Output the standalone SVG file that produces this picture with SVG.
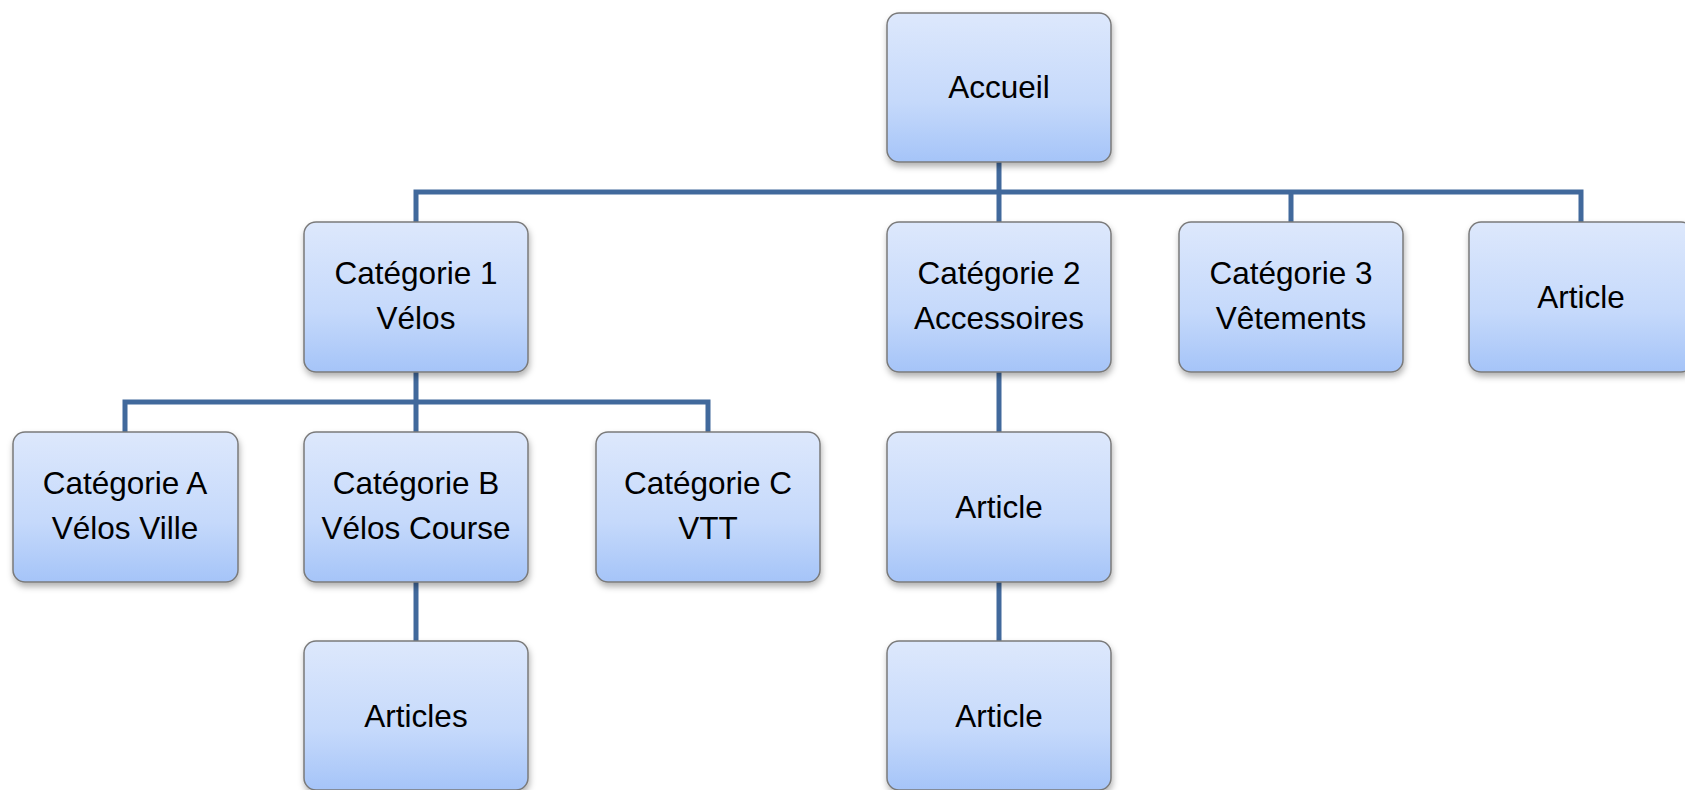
<svg xmlns="http://www.w3.org/2000/svg" width="1685" height="790" viewBox="0 0 1685 790">
<defs>
<linearGradient id="g" x1="0" y1="0" x2="0" y2="1">
<stop offset="0" stop-color="#dde8fc"/>
<stop offset="0.6" stop-color="#c5d9fb"/>
<stop offset="1" stop-color="#a5c4f8"/>
</linearGradient>
<filter id="sh" x="-10%" y="-10%" width="125%" height="130%">
<feDropShadow dx="1" dy="4" stdDeviation="3" flood-color="#000" flood-opacity="0.3"/>
</filter>
</defs>
<style>
.box{fill:url(#g);stroke:#7a7a7a;stroke-width:1.5;filter:url(#sh)}
.t{font-family:"Liberation Sans",Arial,sans-serif;font-size:31.5px;fill:#000;text-anchor:middle}
.c{fill:none;stroke:#41699c;stroke-width:5}
</style>
<rect width="1685" height="790" fill="#fff"/>
<g id="connectors">
<path class="c" d="M999 162V192M416 222V192H1581V222M999 192V222M1291 192V222"/>
<path class="c" d="M416 372V402M125 432V402H708V432M416 402V432"/>
<path class="c" d="M416 582V641"/>
<path class="c" d="M999 372V432M999 582V641"/>
</g>
<g id="accueil"><rect class="box" x="887" y="13" width="224" height="149" rx="12"/><text class="t" x="999" y="98">Accueil</text></g>
<g id="cat1"><rect class="box" x="304" y="222" width="224" height="150" rx="12"/><text class="t" x="416" y="284">Catégorie 1</text><text class="t" x="416" y="329">Vélos</text></g>
<g id="cat2"><rect class="box" x="887" y="222" width="224" height="150" rx="12"/><text class="t" x="999" y="284">Catégorie 2</text><text class="t" x="999" y="329">Accessoires</text></g>
<g id="cat3"><rect class="box" x="1179" y="222" width="224" height="150" rx="12"/><text class="t" x="1291" y="284">Catégorie 3</text><text class="t" x="1291" y="329">Vêtements</text></g>
<g id="article-top"><rect class="box" x="1469" y="222" width="224" height="150" rx="12"/><text class="t" x="1581" y="308">Article</text></g>
<g id="catA"><rect class="box" x="13" y="432" width="225" height="150" rx="12"/><text class="t" x="125" y="494">Catégorie A</text><text class="t" x="125" y="539">Vélos Ville</text></g>
<g id="catB"><rect class="box" x="304" y="432" width="224" height="150" rx="12"/><text class="t" x="416" y="494">Catégorie B</text><text class="t" x="416" y="539">Vélos Course</text></g>
<g id="catC"><rect class="box" x="596" y="432" width="224" height="150" rx="12"/><text class="t" x="708" y="494">Catégorie C</text><text class="t" x="708" y="539">VTT</text></g>
<g id="article-1"><rect class="box" x="887" y="432" width="224" height="150" rx="12"/><text class="t" x="999" y="518">Article</text></g>
<g id="articles"><rect class="box" x="304" y="641" width="224" height="149" rx="12"/><text class="t" x="416" y="727">Articles</text></g>
<g id="article-2"><rect class="box" x="887" y="641" width="224" height="149" rx="12"/><text class="t" x="999" y="727">Article</text></g>
</svg>
